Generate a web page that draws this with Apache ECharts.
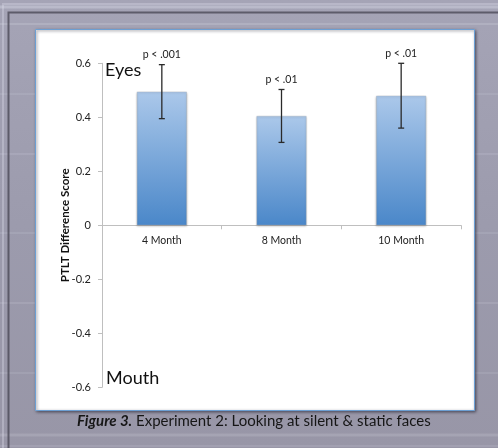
<!DOCTYPE html>
<html>
<head>
<meta charset="utf-8">
<title>PTLT Difference Score by Age</title>
<script src="https://cdn.jsdelivr.net/npm/echarts@6/dist/echarts.min.js"></script>
<style>
  html, body { margin: 0; padding: 0; background: #9a99aa; }
  #chart { width: 498px; height: 448px; }
</style>
</head>
<body>
<div id="chart"></div>
<script>
// Age groups and their mean PTLT difference scores (eyes minus mouth)
const categories = ['4 Month', '8 Month', '10 Month'];
const meanScores = [0.495, 0.405, 0.48];
const errorMargins = [0.10, 0.098, 0.12];
const pLabels = ['p < .001', 'p < .01', 'p < .01'];

// Value axis range and step
const yMin = -0.6;
const yMax = 0.6;
const yStep = 0.2;

const FONT = 'Lato, "Open Sans", sans-serif';

// Plot area edges
const GRID = { left: 102, right: 37, top: 63.3, bottom: 60.7 };
const plotHeight = 448 - GRID.top - GRID.bottom;
// lift the category axis up to the zero line
const zeroOffset = -plotHeight * (0 - yMin) / (yMax - yMin);

const chart = echarts.init(document.getElementById('chart'), null, { renderer: 'canvas' });

// Soft light streaks across the slate backdrop
const streaks = [
  { y: 4, amp: 3, op: 0.35, w: 3 },
  { y: 22, amp: 2, op: 0.2, w: 2 },
  { y: 90, amp: 4, op: 0.12, w: 2 },
  { y: 150, amp: 4, op: 0.14, w: 2 },
  { y: 230, amp: 3, op: 0.12, w: 2 },
  { y: 300, amp: 3, op: 0.14, w: 2 },
  { y: 370, amp: 3, op: 0.12, w: 2 },
  { y: 432, amp: 3, op: 0.18, w: 3 },
  { y: 444, amp: 2, op: 0.14, w: 2 }
];
const streakShapes = streaks.map(function (s, i) {
  const pts = [];
  for (let x = -10; x <= 510; x += 40) {
    pts.push([x, s.y + ((x / 40 + i) % 2 === 0 ? -s.amp : s.amp)]);
  }
  return {
    type: 'polyline', z: -9, silent: true,
    shape: { points: pts, smooth: 0.6 },
    style: { stroke: 'rgba(225,228,240,' + s.op + ')', lineWidth: s.w, fill: null }
  };
});

const errorData = meanScores.map(function (m, i) {
  return [i, m - errorMargins[i], m + errorMargins[i]];
});

chart.setOption({
  backgroundColor: '#9a99aa',
  animation: false,
  textStyle: { fontFamily: FONT },
  graphic: [
    {
      type: 'rect', z: -10, silent: true,
      shape: { x: 0, y: 0, width: 498, height: 448 },
      style: {
        fill: new echarts.graphic.LinearGradient(0, 0, 0, 1, [
          { offset: 0, color: '#a5a4b6' },
          { offset: 0.5, color: '#9c9bad' },
          { offset: 1, color: '#9896a7' }
        ])
      }
    }
  ].concat(streakShapes).concat([
    // outer frame lines
    {
      type: 'polyline', z: -8, silent: true,
      shape: { points: [[8.5, 448], [8.5, 12.5], [498, 12.5]] },
      style: { stroke: 'rgba(70,68,82,0.75)', lineWidth: 2, fill: null }
    },
    {
      type: 'polyline', z: -8, silent: true,
      shape: { points: [[3, 448], [3, 4], [498, 4]] },
      style: { stroke: 'rgba(220,222,235,0.35)', lineWidth: 2, fill: null }
    },
    // white chart panel with soft shadow and blue rim
    {
      type: 'rect', z: -7, silent: true,
      shape: { x: 35.5, y: 29.5, width: 439, height: 381 },
      style: {
        fill: '#ffffff',
        stroke: '#6c9fd3',
        lineWidth: 1,
        shadowColor: 'rgba(40,40,55,0.7)',
        shadowBlur: 3,
        shadowOffsetX: 1,
        shadowOffsetY: 1
      }
    },
    // region annotations
    {
      type: 'text', z: 5, silent: true,
      left: 105, top: 61,
      style: { text: 'Eyes', font: '18px ' + FONT, fill: '#111111' }
    },
    {
      type: 'text', z: 5, silent: true,
      left: 106, top: 369,
      style: { text: 'Mouth', font: '18px ' + FONT, fill: '#111111' }
    },
    // figure caption
    {
      type: 'text', z: 5, silent: true,
      left: 77, top: 414,
      style: {
        text: '{b|Figure 3.} Experiment 2: Looking at silent & static faces',
        font: '15px ' + FONT,
        fill: '#161616',
        rich: {
          b: { fontWeight: 'bold', fontStyle: 'italic', fontSize: 15, fontFamily: FONT, fill: '#161616' }
        }
      }
    }
  ]),
  grid: {
    left: GRID.left,
    right: GRID.right,
    top: GRID.top,
    bottom: GRID.bottom,
    containLabel: false
  },
  xAxis: {
    type: 'category',
    data: categories,
    position: 'bottom',
    offset: zeroOffset,
    axisLine: { onZero: false, lineStyle: { color: '#bfbfbf', width: 1 } },
    axisTick: { show: true, length: 4, lineStyle: { color: '#bfbfbf' } },
    axisLabel: { color: '#222222', fontSize: 10.5, margin: 10, fontFamily: FONT },
    splitLine: { show: false }
  },
  yAxis: {
    type: 'value',
    min: yMin,
    max: yMax,
    interval: yStep,
    name: 'PTLT Difference Score',
    nameLocation: 'middle',
    nameRotate: 90,
    nameGap: 31,
    nameMoveOverlap: false,
    nameTextStyle: { color: '#111111', fontSize: 11.5, fontWeight: 'bold', fontFamily: FONT },
    axisLine: { show: true, lineStyle: { color: '#bfbfbf', width: 1 } },
    axisTick: { show: true, length: 4, lineStyle: { color: '#bfbfbf' } },
    axisLabel: {
      color: '#222222', fontSize: 11, margin: 11, fontFamily: FONT,
      formatter: function (v) { return String(Math.round(v * 10) / 10); }
    },
    splitLine: { show: false }
  },
  series: [
    {
      type: 'bar',
      data: meanScores,
      barWidth: 50,
      itemStyle: {
        color: new echarts.graphic.LinearGradient(0, 0, 0, 1, [
          { offset: 0, color: '#abc8ea' },
          { offset: 1, color: '#4a87c9' }
        ]),
        borderColor: 'rgba(160,170,185,0.6)',
        borderWidth: 0.6,
        shadowColor: 'rgba(0,0,0,0.25)',
        shadowBlur: 2,
        shadowOffsetY: 1
      },
      z: 2
    },
    {
      type: 'custom',
      z: 4,
      data: errorData,
      renderItem: function (params, api) {
        const x = api.coord([api.value(0), 0])[0];
        const lo = api.coord([api.value(0), api.value(1)])[1];
        const hi = api.coord([api.value(0), api.value(2)])[1];
        const cap = 3;
        const lineStyle = { stroke: '#2a2a2a', lineWidth: 1.3 };
        return {
          type: 'group',
          children: [
            { type: 'line', shape: { x1: x, y1: hi, x2: x, y2: lo }, style: lineStyle },
            { type: 'line', shape: { x1: x - cap, y1: hi, x2: x + cap, y2: hi }, style: lineStyle },
            { type: 'line', shape: { x1: x - cap, y1: lo, x2: x + cap, y2: lo }, style: lineStyle },
            {
              type: 'text',
              style: {
                text: pLabels[params.dataIndex],
                x: x, y: hi - 10,
                align: 'center', verticalAlign: 'middle',
                font: '10.5px ' + FONT,
                fill: '#222222'
              }
            }
          ]
        };
      }
    }
  ]
});
</script>
</body>
</html>
